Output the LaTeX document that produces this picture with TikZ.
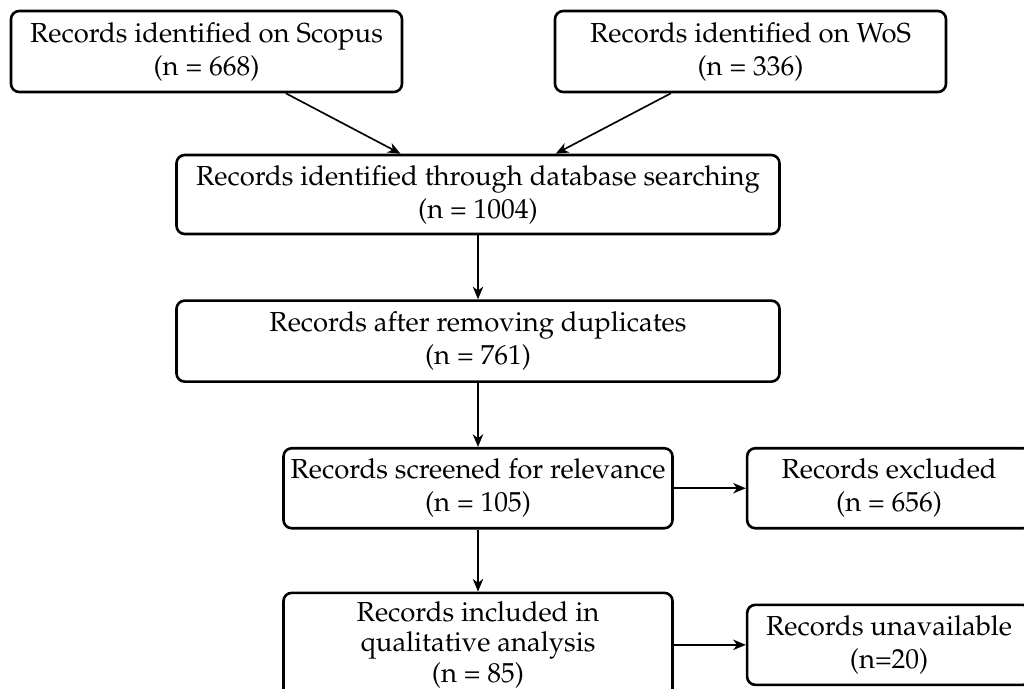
\documentclass[tikz,border=0pt]{standalone}
\usepackage[T1]{fontenc}
\usepackage{mathpazo}
\usetikzlibrary{positioning,arrows.meta}

\tikzset{
  recbox/.style={draw, rectangle, rounded corners=3pt, line width=0.95pt, align=center,
    inner sep=0pt},
  flow/.style={-{Stealth[length=4.6pt,width=3.8pt,inset=1.4pt]}, line width=0.6pt},
}

\begin{document}
\begin{tikzpicture}[x=0.364pt, y=-0.364pt]
  \def\pxu{0.364pt}
  \def\vgap{64*\pxu}
  \def\hgap{72*\pxu}
  \useasboundingbox (0,0) rectangle (1024,688);
  % Databases
  \node [recbox, minimum width=391*\pxu, minimum height=81*\pxu] (scopus) at (206.5,51.5)
    {Records identified on Scopus\\(n = 668)};
  \node [recbox, minimum width=391*\pxu, minimum height=81*\pxu] (wos) at (750.5,51.5)
    {Records identified on WoS\\(n = 336)};
  % Identification
  \node [recbox, minimum width=603*\pxu, minimum height=79*\pxu] (search) at (478,194.5)
    {Records identified through database searching\\(n = 1004)};
  % Duplicates
  \node [recbox, minimum width=603*\pxu, minimum height=81*\pxu, below = \vgap of search] (nodup)
    {Records after removing duplicates\\(n = 761)};
  % Screening
  \node [recbox, minimum width=389*\pxu, minimum height=80*\pxu, below = \vgap of nodup] (screened)
    {Records screened for relevance\\(n = 105)};
  \node [recbox, minimum width=284*\pxu, minimum height=80*\pxu, right = \hgap of screened] (excluded)
    {Records excluded\\(n = 656)};
  % Included
  \node [recbox, minimum width=389*\pxu, minimum height=104*\pxu, below = {62*\pxu} of screened] (included)
    {Records included in\\[-1pt]qualitative analysis\\[-1pt](n = 85)};
  \node [recbox, minimum width=284*\pxu, minimum height=80*\pxu, right = \hgap of included] (unavailable)
    {Records unavailable\\(n=20)};

  \draw [flow] (scopus) -- (search);
  \draw [flow] (wos) -- (search);
  \draw [flow] (search) -- (nodup);
  \draw [flow] (nodup) -- (screened);
  \draw [flow] (screened) -- (excluded);
  \draw [flow] (screened) -- (included);
  \draw [flow] (included) -- (unavailable);
\end{tikzpicture}
\end{document}
